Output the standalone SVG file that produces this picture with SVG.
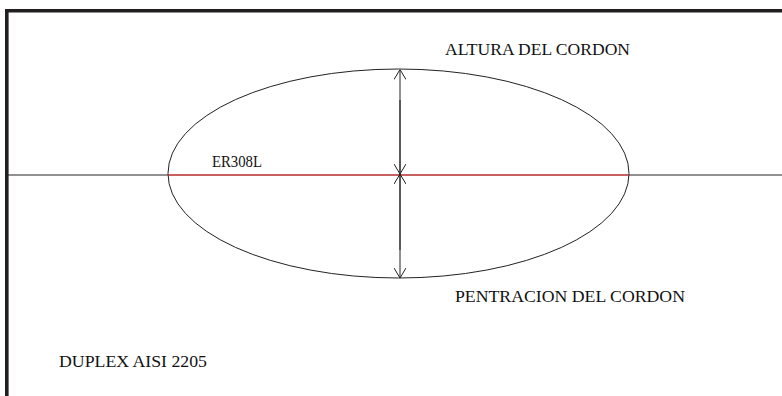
<svg xmlns="http://www.w3.org/2000/svg" width="782" height="396" viewBox="0 0 782 396">
<style>
.t{font-family:'Liberation Serif','DejaVu Serif','Times New Roman',serif;font-size:17px;fill:#111}
.ln{stroke:#222;stroke-width:1;fill:none}
</style>
<defs>
<marker id="ah" viewBox="0 0 10 12" refX="10" refY="6" markerWidth="10" markerHeight="12" markerUnits="userSpaceOnUse" orient="auto">
<path d="M0,0 L10,6 L0,12" fill="none" stroke="#222" stroke-width="1"/>
</marker>
</defs>
<rect x="0" y="0" width="782" height="396" fill="#fff"/>
<path d="M6.8,396 V10.8 H782" fill="none" stroke="#231f20" stroke-width="3.6"/>
<g id="base-line"><line class="ln" x1="8" y1="175" x2="782" y2="175"/></g>
<g id="bead">
<ellipse cx="398.5" cy="173.5" rx="230.5" ry="104.5" fill="none" stroke="#222" stroke-width="1"/>
<line x1="168" y1="175" x2="629" y2="175" stroke="#ff3030" stroke-width="1"/>
</g>
<g id="connectors">
<line class="ln" x1="400" y1="174" x2="400" y2="69.5" marker-end="url(#ah)"/>
<line class="ln" x1="400" y1="100" x2="400" y2="174" marker-end="url(#ah)"/>
<line class="ln" x1="400" y1="250" x2="400" y2="174" marker-end="url(#ah)"/>
<line class="ln" x1="400" y1="174" x2="400" y2="278" marker-end="url(#ah)"/>
</g>
<g id="label-altura"><text class="t" font-family="Liberation Serif, serif" x="445" y="55" textLength="185" lengthAdjust="spacingAndGlyphs">ALTURA DEL CORDON</text></g>
<g id="label-er308l"><text class="t" font-family="Liberation Serif, serif" x="212" y="167" textLength="50" lengthAdjust="spacingAndGlyphs">ER308L</text></g>
<g id="label-penetracion"><text class="t" font-family="Liberation Serif, serif" x="455" y="302" textLength="230" lengthAdjust="spacingAndGlyphs">PENTRACION DEL CORDON</text></g>
<g id="label-duplex"><text class="t" font-family="Liberation Serif, serif" x="59" y="367" textLength="148" lengthAdjust="spacingAndGlyphs">DUPLEX AISI 2205</text></g>
</svg>
